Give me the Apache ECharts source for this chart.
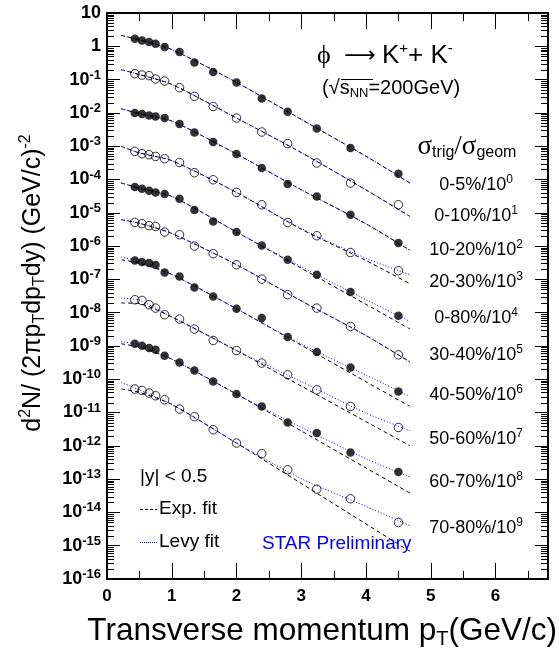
<!DOCTYPE html>
<html>
<head>
<meta charset="utf-8">
<script src="https://cdn.jsdelivr.net/npm/echarts@6/dist/echarts.min.js"></script>
<style>
  html, body { margin: 0; padding: 0; background: #fff; }
  #chart { width: 559px; height: 656px; }
</style>
</head>
<body>
<div id="chart"></div>
<script>
// Transverse momentum bin centres (GeV/c)
const pT = [0.43, 0.54, 0.65, 0.75, 0.89, 1.12, 1.35, 1.64, 2.0, 2.39, 2.79, 3.24, 3.76, 4.5];

// Invariant yields, each centrality already divided by its 10^n factor
const yield_0_5   = [1.69, 1.50, 1.35, 1.20, 0.953, 0.674, 0.328, 0.169, 0.0822, 0.0272, 0.0108, 3.42e-3, 8.8e-4, 1.49e-4];
const yield_0_10  = [0.150, 0.137, 0.131, 0.104, 0.0906, 0.0570, 0.0313, 0.0156, 7.01e-3, 2.66e-3, 1.19e-3, 3.12e-4, 7.8e-5, 1.74e-5];
const yield_10_20 = [9.91e-3, 9.25e-3, 8.39e-3, 7.83e-3, 7.01e-3, 4.63e-3, 2.59e-3, 1.33e-3, 5.8e-4, 2.21e-4, 7.3e-5, 3.10e-5, 8.7e-6, 1.23e-6];
const yield_20_30 = [6.97e-4, 5.94e-4, 5.53e-4, 4.92e-4, 4.20e-4, 3.25e-4, 1.60e-4, 9.8e-5, 4.08e-5, 1.74e-5, 5.1e-6, 2.04e-6, 6.4e-7, 1.82e-7];
const yield_0_80  = [5.93e-5, 5.27e-5, 4.59e-5, 4.08e-5, 3.66e-5, 2.64e-5, 1.21e-5, 5.5e-6, 2.64e-6, 1.04e-6, 3.88e-7, 1.38e-7, 4.16e-8, 8.1e-9];
const yield_30_40 = [5.13e-6, 4.69e-6, 4.08e-6, 3.89e-6, 2.64e-6, 2.19e-6, 1.00e-6, 5.89e-7, 2.75e-7, 1.02e-7, 3.45e-8, 1.37e-8, 3.85e-9, 5.4e-10];
const yield_40_50 = [3.70e-7, 3.31e-7, 3.09e-7, 2.69e-7, 1.61e-7, 1.22e-7, 5.7e-8, 3.07e-8, 1.31e-8, 6.9e-9, 1.85e-9, 6.6e-10, 2.26e-10, 4.3e-11];
const yield_50_60 = [2.44e-8, 2.33e-8, 1.73e-8, 1.37e-8, 8.65e-9, 6.43e-9, 3.22e-9, 1.46e-9, 7.3e-10, 3.06e-10, 1.36e-10, 4.8e-11, 1.52e-11, 3.56e-12];
const yield_60_70 = [1.16e-9, 1.01e-9, 8.65e-10, 7.69e-10, 5.07e-10, 3.19e-10, 1.84e-10, 8.6e-11, 3.59e-11, 1.52e-11, 5.0e-12, 2.42e-12, 6.3e-13, 1.63e-13];
const yield_70_80 = [5.07e-11, 4.60e-11, 3.85e-11, 3.19e-11, 2.42e-11, 1.27e-11, 7.5e-12, 3.04e-12, 1.21e-12, 5.8e-13, 1.91e-13, 5.0e-14, 2.57e-14, 4.99e-15];

// Fit curves sampled at these pT values
const fitPt = [0.22, 0.5, 1.0, 2.0, 3.0, 4.0, 4.68];
const expFit_0_5   = [2.12, 1.57, 0.80, 0.0822, 6.37e-3, 4.99e-4, 7.82e-5];
const levyFit_0_5  = [2.12, 1.57, 0.80, 0.0822, 6.37e-3, 4.99e-4, 7.82e-5];
const expFit_0_10  = [0.198, 0.142, 0.0716, 7.01e-3, 6.41e-4, 4.85e-5, 7.76e-6];
const levyFit_0_10 = [0.198, 0.142, 0.0716, 7.01e-3, 6.41e-4, 4.85e-5, 7.76e-6];
const expFit_10_20  = [1.33e-2, 9.44e-3, 5.70e-3, 5.80e-4, 4.92e-5, 4.66e-6, 7.40e-7];
const levyFit_10_20 = [1.33e-2, 9.44e-3, 5.70e-3, 5.80e-4, 4.92e-5, 4.66e-6, 7.40e-7];
const expFit_20_30  = [9.84e-4, 6.28e-4, 3.68e-4, 4.08e-5, 3.21e-6, 3.67e-7, 7.38e-8];
const levyFit_20_30 = [9.84e-4, 6.28e-4, 3.68e-4, 4.08e-5, 3.37e-6, 4.28e-7, 1.38e-7];
const expFit_0_80  = [7.82e-5, 5.50e-5, 3.10e-5, 2.64e-6, 2.16e-7, 1.77e-8, 3.22e-9];
const levyFit_0_80 = [7.82e-5, 5.50e-5, 3.10e-5, 2.64e-6, 2.41e-7, 2.46e-8, 5.44e-9];
const expFit_30_40  = [6.18e-6, 4.85e-6, 2.39e-6, 2.75e-7, 2.26e-8, 2.05e-9, 3.28e-10];
const levyFit_30_40 = [6.18e-6, 4.85e-6, 2.39e-6, 2.75e-7, 2.26e-8, 2.05e-9, 3.28e-10];
const expFit_40_50  = [3.88e-7, 3.05e-7, 1.41e-7, 1.31e-8, 1.05e-9, 8.41e-11, 1.52e-11];
const levyFit_40_50 = [4.68e-7, 3.45e-7, 1.41e-7, 1.31e-8, 1.15e-9, 1.33e-10, 3.04e-11];
const expFit_50_60  = [1.95e-8, 1.85e-8, 7.43e-9, 7.30e-10, 6.24e-11, 5.32e-12, 1.00e-12];
const levyFit_50_60 = [2.75e-8, 2.36e-8, 7.43e-9, 7.30e-10, 8.47e-11, 9.57e-12, 2.84e-12];
const expFit_60_70  = [1.16e-9, 9.14e-10, 4.02e-10, 3.59e-11, 2.80e-12, 2.16e-13, 3.81e-14];
const levyFit_60_70 = [1.36e-9, 1.06e-9, 4.02e-10, 3.59e-11, 3.59e-12, 4.08e-13, 1.15e-13];
const expFit_70_80  = [5.07e-11, 4.06e-11, 1.75e-11, 1.21e-12, 7.41e-14, 4.50e-15, 6.71e-16];
const levyFit_70_80 = [8.02e-11, 4.76e-11, 1.75e-11, 1.21e-12, 1.03e-13, 1.52e-14, 3.97e-15];

// Centrality classes and their scale-down powers
const centralityLabels = ['0-5%', '0-10%', '10-20%', '20-30%', '0-80%', '30-40%', '40-50%', '50-60%', '60-70%', '70-80%'];
const scalePowers = [0, 1, 2, 3, 4, 5, 6, 7, 8, 9];
const filledMarker = [true, false, true, false, true, false, true, false, true, false];

// Axis ranges and tick labels
const xMin = 0, xMax = 6.81;
const xTickLabels = ['0', '1', '2', '3', '4', '5', '6'];
const yMinExp = -16, yMaxExp = 1;

const yields = [yield_0_5, yield_0_10, yield_10_20, yield_20_30, yield_0_80,
                yield_30_40, yield_40_50, yield_50_60, yield_60_70, yield_70_80];
const expFits = [expFit_0_5, expFit_0_10, expFit_10_20, expFit_20_30, expFit_0_80,
                 expFit_30_40, expFit_40_50, expFit_50_60, expFit_60_70, expFit_70_80];
const levyFits = [levyFit_0_5, levyFit_0_10, levyFit_10_20, levyFit_20_30, levyFit_0_80,
                  levyFit_30_40, levyFit_40_50, levyFit_50_60, levyFit_60_70, levyFit_70_80];

// Minor tick positions (2..9 per decade on y, half units on x)
const yMinorTicks = [];
for (let e = yMinExp; e < yMaxExp; e++) {
  for (let m = 2; m <= 9; m++) yMinorTicks.push(m * Math.pow(10, e));
}
const xMinorTicks = [0.5, 1.5, 2.5, 3.5, 4.5, 5.5, 6.5];

const SANS = 'Liberation Sans, Arial, sans-serif';
const SERIF = 'Liberation Serif, Times New Roman, serif';

const chart = echarts.init(document.getElementById('chart'), null, { renderer: 'canvas' });

const series = [];

// fit curves (drawn under the markers)
yields.forEach((_, i) => {
  series.push({
    type: 'line', name: 'exp-' + centralityLabels[i],
    data: fitPt.map((x, k) => [x, expFits[i][k]]),
    showSymbol: false, smooth: 0.25, z: 2, silent: true,
    lineStyle: { color: '#000', width: 1, type: [4, 3] }
  });
  series.push({
    type: 'line', name: 'levy-' + centralityLabels[i],
    data: fitPt.map((x, k) => [x, levyFits[i][k]]),
    showSymbol: false, smooth: 0.25, z: 3, silent: true,
    lineStyle: { color: '#0000ff', width: 1, type: [1, 2] }
  });
});

// measured spectra
yields.forEach((arr, i) => {
  series.push({
    type: 'scatter', name: centralityLabels[i],
    data: pT.map((x, k) => [x, arr[k]]),
    symbol: 'circle', symbolSize: 8.5, z: 4,
    itemStyle: filledMarker[i]
      ? { color: '#000' }
      : { color: 'rgba(255,255,255,0)', borderColor: '#000', borderWidth: 1 }
  });
});

// minor ticks on the left and right frame edges
series.push({
  type: 'custom', silent: true, z: 5, clip: false,
  data: yMinorTicks.map(v => [1, v]),
  renderItem(params, api) {
    const p = api.coord([api.value(0), api.value(1)]);
    const cs = params.coordSys;
    const y = Math.round(p[1]) + 0.5;
    return { type: 'group', children: [
      { type: 'line', shape: { x1: cs.x, y1: y, x2: cs.x + 7, y2: y }, style: { stroke: '#000', lineWidth: 1 } },
      { type: 'line', shape: { x1: cs.x + cs.width, y1: y, x2: cs.x + cs.width - 7, y2: y }, style: { stroke: '#000', lineWidth: 1 } }
    ] };
  }
});
// minor ticks on the bottom and top frame edges
series.push({
  type: 'custom', silent: true, z: 5, clip: false,
  data: xMinorTicks.map(v => [v, 1]),
  renderItem(params, api) {
    const p = api.coord([api.value(0), api.value(1)]);
    const cs = params.coordSys;
    const x = Math.round(p[0]) + 0.5;
    return { type: 'group', children: [
      { type: 'line', shape: { x1: x, y1: cs.y + cs.height, x2: x, y2: cs.y + cs.height - 8 }, style: { stroke: '#000', lineWidth: 1 } },
      { type: 'line', shape: { x1: x, y1: cs.y, x2: x, y2: cs.y + 8 }, style: { stroke: '#000', lineWidth: 1 } }
    ] };
  }
});

const yLabelRich = {
  b: { fontSize: 18, fontWeight: 'bold', fontFamily: SANS, color: '#000', lineHeight: 22 },
  s: { fontSize: 13, fontWeight: 'bold', fontFamily: SANS, color: '#000', verticalAlign: 'top', lineHeight: 13 }
};

const baseY = {
  type: 'log', logBase: 10,
  min: Math.pow(10, yMinExp), max: Math.pow(10, yMaxExp), interval: 1,
  splitLine: { show: false },
  axisLine: { show: true, onZero: false, lineStyle: { color: '#000', width: 2 } },
  axisTick: { show: true, inside: true, length: 13, lineStyle: { color: '#000', width: 1 } },
  minorTick: { show: false }
};
const baseX = {
  type: 'value', min: xMin, max: xMax, interval: 1,
  splitLine: { show: false },
  axisLine: { show: true, onZero: false, lineStyle: { color: '#000', width: 2 } },
  axisTick: { show: true, inside: true, length: 16, lineStyle: { color: '#000', width: 1 } }
};

// annotations
const rightLabels = centralityLabels.map((c, i) => ({
  type: 'text', x: 476,
  y: [185, 216, 250, 282, 318, 355, 395, 439, 482, 528][i],
  silent: true,
  style: {
    text: '{n|' + c + '/10}{s|' + scalePowers[i] + '}',
    align: 'center', verticalAlign: 'middle',
    rich: {
      n: { fontSize: 18, fontFamily: SANS, fill: '#000', lineHeight: 22 },
      s: { fontSize: 12, fontFamily: SANS, fill: '#000', verticalAlign: 'top', lineHeight: 12 }
    }
  }
}));

const option = {
  animation: false,
  backgroundColor: '#fff',
  grid: { left: 107, right: 11, top: 13, bottom: 77, containLabel: false },
  xAxis: [
    Object.assign({}, baseX, {
      position: 'bottom',
      axisLabel: {
        show: true, margin: 9, color: '#000', fontSize: 17, fontWeight: 'bold', fontFamily: SANS,
        showMaxLabel: false,
        formatter: v => (Math.abs(v - Math.round(v)) < 1e-6 ? xTickLabels[Math.round(v)] || '' : '')
      }
    }),
    Object.assign({}, baseX, { position: 'top', axisLabel: { show: false } })
  ],
  yAxis: [
    Object.assign({}, baseY, {
      position: 'left',
      axisLabel: {
        show: true, margin: 6, rich: yLabelRich,
        formatter: v => {
          const e = Math.round(Math.log10(v));
          if (e === 1) return '{b|10}';
          if (e === 0) return '{b|1}';
          return '{b|10}{s|' + e + '}';
        }
      }
    }),
    Object.assign({}, baseY, { position: 'right', axisLabel: { show: false } })
  ],
  series: series,
  graphic: [
    // y-axis title
    {
      type: 'text', x: 33, y: 283, rotation: Math.PI / 2, silent: true,
      style: {
        text: '{t|d}{sp|2}{t|N/ (2πp}{sb|T}{t|dp}{sb|T}{t|dy) (GeV/c)}{sp|-2}',
        align: 'center', verticalAlign: 'middle',
        rich: {
          t: { fontSize: 25, fontFamily: SANS, fill: '#000', lineHeight: 30 },
          sp: { fontSize: 16, fontFamily: SANS, fill: '#000', verticalAlign: 'top', lineHeight: 16 },
          sb: { fontSize: 16, fontFamily: SANS, fill: '#000', verticalAlign: 'bottom', lineHeight: 16 }
        }
      }
    },
    // x-axis title
    {
      type: 'text', x: 557, y: 631, silent: true,
      style: {
        text: '{t|Transverse momentum p}{sb|T}{t|(GeV/c)}',
        align: 'right', verticalAlign: 'middle',
        rich: {
          t: { fontSize: 31.5, fontFamily: SANS, fill: '#000', lineHeight: 36 },
          sb: { fontSize: 20, fontFamily: SANS, fill: '#000', verticalAlign: 'bottom', lineHeight: 20 }
        }
      }
    },
    // reaction
    { type: 'text', x: 317, y: 56, silent: true,
      style: { text: 'ϕ', font: '26px ' + SERIF, fill: '#000', align: 'left', verticalAlign: 'middle' } },
    { type: 'text', x: 360, y: 56, silent: true,
      style: { text: '⟶', font: '22px DejaVu Sans', fill: '#000', align: 'center', verticalAlign: 'middle' } },
    {
      type: 'text', x: 382, y: 56, silent: true,
      style: {
        text: '{k|K}{s|+}{k|+ K}{s|-}',
        align: 'left', verticalAlign: 'middle',
        rich: {
          k: { fontSize: 26, fontFamily: SANS, fill: '#000', lineHeight: 30 },
          s: { fontSize: 15, fontFamily: SANS, fill: '#000', verticalAlign: 'top', lineHeight: 15 }
        }
      }
    },
    {
      type: 'text', x: 322, y: 88, silent: true,
      style: {
        text: '{t|(√s}{sb|NN}{t|=200GeV)}',
        align: 'left', verticalAlign: 'middle',
        rich: {
          t: { fontSize: 20, fontFamily: SANS, fill: '#000', lineHeight: 24 },
          sb: { fontSize: 13, fontFamily: SANS, fill: '#000', verticalAlign: 'bottom', lineHeight: 13 }
        }
      }
    },
    { type: 'line', silent: true, shape: { x1: 341, y1: 79.5, x2: 373, y2: 79.5 }, style: { stroke: '#000', lineWidth: 1 } },
    // centrality header
    {
      type: 'text', x: 467, y: 147, silent: true,
      style: {
        text: '{g|σ}{sb|trig}{g|/σ}{sb|geom}',
        align: 'center', verticalAlign: 'middle',
        rich: {
          g: { fontSize: 27, fontFamily: SERIF, fill: '#000', lineHeight: 28 },
          sb: { fontSize: 16, fontFamily: SANS, fill: '#000', verticalAlign: 'bottom', lineHeight: 16 }
        }
      }
    },
    ...rightLabels,
    // legend
    { type: 'text', x: 140, y: 477, silent: true, style: { text: '|y| < 0.5', font: '19px ' + SANS, fill: '#000', align: 'left', verticalAlign: 'middle' } },
    { type: 'line', silent: true, shape: { x1: 140, y1: 509.5, x2: 157, y2: 509.5 }, style: { stroke: '#000', lineWidth: 1, lineDash: [3, 2] } },
    { type: 'text', x: 159, y: 509, silent: true, style: { text: 'Exp. fit', font: '19px ' + SANS, fill: '#000', align: 'left', verticalAlign: 'middle' } },
    { type: 'line', silent: true, shape: { x1: 140, y1: 542.5, x2: 157, y2: 542.5 }, style: { stroke: '#0000ff', lineWidth: 1, lineDash: [1, 1] } },
    { type: 'text', x: 159, y: 542, silent: true, style: { text: 'Levy fit', font: '19px ' + SANS, fill: '#000', align: 'left', verticalAlign: 'middle' } },
    { type: 'text', x: 262, y: 544, silent: true, style: { text: 'STAR Preliminary', font: '19px ' + SANS, fill: '#0000ff', align: 'left', verticalAlign: 'middle' } }
  ]
};

chart.setOption(option);
</script>
</body>
</html>
